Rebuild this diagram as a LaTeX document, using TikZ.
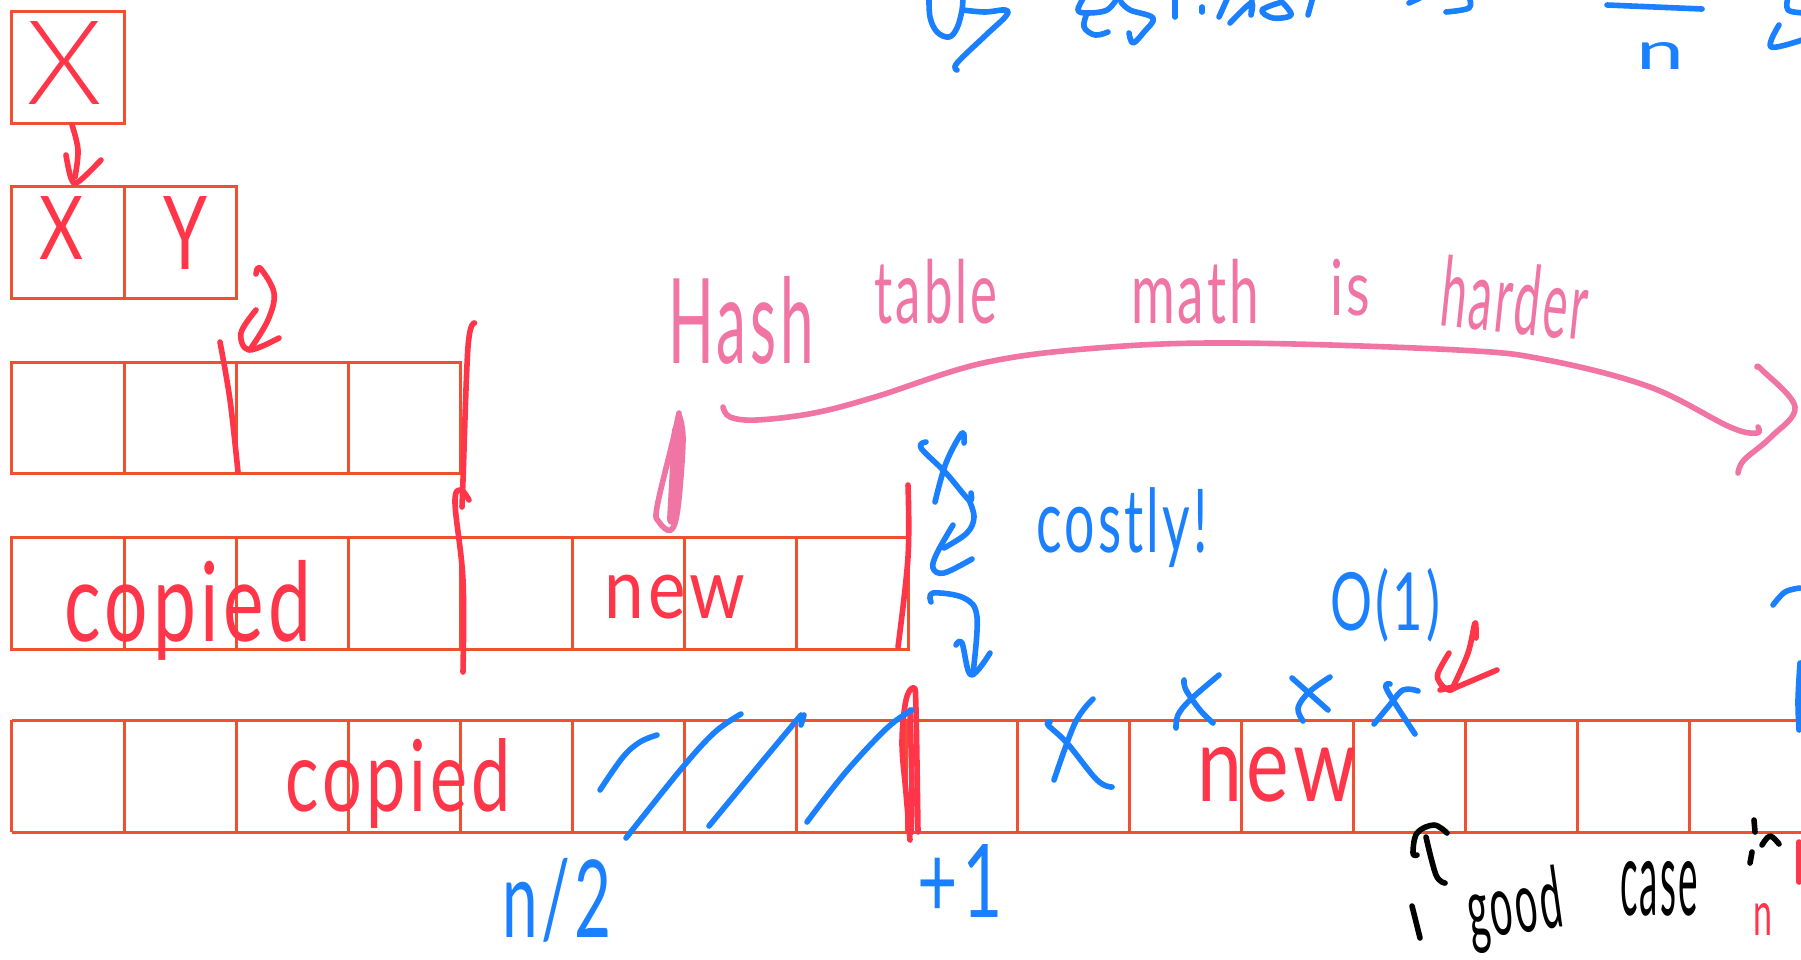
\documentclass[tikz,border=0pt]{standalone}
\usepackage{fontspec}
\usepackage{graphicx}
\setmainfont{Liberation Sans}
\newfontfamily\hand[LetterSpace=6]{Lato}
\newfontfamily\handlight[LetterSpace=6]{Lato Light}
\definecolor{gridc}{HTML}{F0502F}
\definecolor{inkred}{HTML}{FF3549}
\definecolor{inkblue}{HTML}{1A80FF}
\definecolor{inkpink}{HTML}{F075A4}
\definecolor{inkblack}{HTML}{000000}
\tikzset{
  gridline/.style={draw=gridc,line width=3pt},
  ink/.style={line width=5.6pt,line cap=round,line join=round},
  redink/.style={ink,draw=inkred},
  blueink/.style={ink,draw=inkblue},
  pinkink/.style={ink,draw=inkpink},
  blackink/.style={ink,draw=inkblack},
  word/.style={inner sep=0pt,outer sep=0pt}
}
% name, colour, centre x, centre y, width, height, rotation, text
\newcommand{\hw}[8]{\node[word,text=#2,rotate=#7] (#1) at (#3,#4)
  {\resizebox*{#5pt}{#6pt}{\fontsize{60}{70}\selectfont\hand #8}};}
\newcommand{\hl}[8]{\node[word,text=#2,rotate=#7] (#1) at (#3,#4)
  {\resizebox*{#5pt}{#6pt}{\fontsize{60}{70}\selectfont\handlight #8}};}
\newcommand{\sk}[2]{\draw[#1] plot[smooth,tension=.6] coordinates {#2};}
\begin{document}
\begin{tikzpicture}[x=1pt,y=-1pt]
\useasboundingbox (0,0) rectangle (1801,959);
\fill[white] (0,0) rectangle (1801,959);
\clip (0,0) rectangle (1801,959);
% grids
\draw[gridline] (11.5,11.5) rectangle (124,123);
\draw[gridline] (11.5,186) rectangle (236,298) (124,186) -- (124,298);
\draw[gridline] (11.5,362) rectangle (460,473);
\foreach \c in {124,236,348} \draw[gridline] (\c,362) -- (\c,473);
\draw[gridline] (11.5,537) rectangle (908,649);
\foreach \c in {124,236,348,460,572,684,796} \draw[gridline] (\c,537) -- (\c,649);
\draw[gridline] (11.5,720) -- (1810,720) (11.5,832) -- (1810,832) (11.5,720) -- (11.5,832);
\foreach \c in {124,236,348,460,572,684,796,906,1017,1129,1241,1353,1465,1577,1689}
  \draw[gridline] (\c,720) -- (\c,832);
% red strokes
\sk{redink}{(72,125)(78,150)(75,177)}
\sk{redink}{(66,155)(71,178)(78,182)(101,160)}
\sk{redink}{(256,274)(260,268)(274,293)(268,320)(251,348)}
\sk{redink}{(256,310)(241,333)(249,350)(279,338)}
\sk{redink}{(220,342)(230,400)(238,472)}
\sk{redink}{(474.5,323)(468,347)(463,480)(462,507)}
\sk{redink}{(469,500)(461,490)(455,503)(463,580)(463,672)}
\sk{redink}{(908,485)(908,557)(898,647)}
\sk{redink}{(910,840)(906,793)(902,743)(906,700)(914,688)(916,710)(918,832)}
\sk{redink}{(910,710)(912,793)(911,833)}
\sk{redink}{(1476,638)(1475,623)(1468,653)(1453,687)}
\sk{redink}{(1449,653)(1438,673)(1440,683)(1449,690)(1457,687)(1497,670)}
\sk{redink}{(1440,690)(1453,687)}
\sk{redink}{(1799,842)(1799,882)}
% blue strokes
\sk{blueink}{(600,790)(623,757)(640,742)(657,735)}
\sk{blueink}{(626,838)(682,768)(715,732)(741,714)}
\sk{blueink}{(709,826)(761,763)(801,715)}
\sk{blueink}{(801,725)(804,715)}
\sk{blueink}{(807,822)(845,773)(887,728)(912,710)}
\sk{blueink}{(1050,722)(1048,725)(1067,743)(1097,780)(1112,787)}
\sk{blueink}{(1093,699)(1075,723)(1054,780)}
\sk{blueink}{(1184,680)(1186,690)(1200,710)(1213,723)}
\sk{blueink}{(1219,675)(1190,700)(1178,715)(1176,728)}
\sk{blueink}{(1292,678)(1328,710)}
\sk{blueink}{(1330,677)(1309,692)(1298,708)(1303,721)}
\sk{blueink}{(1390,684)(1387,690)(1415,734)}
\sk{blueink}{(1418,691)(1403,690)(1388,707)(1374,724)}
\sk{blueink}{(926,442)(921,448)(946,473)(969,500)(971,493)}
\sk{blueink}{(964,443)(962,433)(946,463)(935,502)}
\sk{blueink}{(969,500)(974,517)(967,533)(944,548)}
\sk{blueink}{(953,525)(937,553)(933,568)(944,573)(972,559)}
\sk{blueink}{(931,602)(933,593)(964,598)(977,617)(973,673)}
\sk{blueink}{(956,645)(962,643)(971,675)(990,653)}
% blue fragments cut by the edges
\sk{blueink}{(929,-5)(930,17)(937,32)(949,37)(957,28)(962,10)(963,-5)}
\sk{blueink}{(963,10)(985,12)(1005,10)(1006,16)(986,35)(957,63)(957,70)}
\sk{blueink}{(1118,-3)(1107,10)(1087,13)(1078,10)(1084,-3)}
\sk{blueink}{(1087,13)(1084,27)(1095,35)(1108,32)}
\sk{blueink}{(1121,2)(1130,10)(1153,18)(1144,32)(1133,43)(1129,33)}
\sk{blueink}{(1175,-3)(1175,17)}
\sk{blueink}{(1202,7)(1202,12)}
\sk{blueink}{(1219,17)(1228,-3)}
\sk{blueink}{(1230,23)(1251,3)(1251,15)(1252,-3)}
\sk{blueink}{(1282,2)(1262,10)(1273,18)(1291,15)(1282,2)}
\sk{blueink}{(1308,15)(1313,-3)}
\sk{blueink}{(1409,3)(1420,-2)}
\sk{blueink}{(1469,-3)(1469,8)(1446,12)}
\draw[blueink] (1607,5) -- (1702,9);
\sk{blueink}{(1788,-3)(1788,10)(1805,13)}
\sk{blueink}{(1779,25)(1771,47)(1805,39)}
\sk{blueink}{(1773,605)(1785,592)(1800,588)}
\sk{blueink}{(1800,663)(1798,700)(1799,730)}
% pink strokes
\sk{pinkink}{(723,407)(730,417)(757,420)(814,413)(875,397)(983,363)(1097,348)(1234,343)(1458,350)(1547,360)(1650,387)(1730,427)(1757,433)(1758,427)}
\sk{pinkink}{(1757,367)(1762,370)(1795,407)(1771,437)(1744,460)(1738,473)}
\sk{pinkink}{(679,413)(673,440)(657,507)(659,522)(671,530)(678,507)(683,440)(679,415)}
\draw[pinkink,line width=10pt] (677,430) -- (672,520);
% black strokes
\sk{blackink}{(1445,883)(1436,875)(1426,837)}
\sk{blackink}{(1417,855)(1413,853)(1417,833)(1434,825)(1447,833)}
\sk{blackink}{(1412,906)(1420,938)}
\sk{blackink}{(1754,820)(1755,832)}
\sk{blackink}{(1762,845)(1770,836)(1779,844)}
\sk{blackink}{(1752,852)(1750,863)}
% words
\hl{xone}{inkred}{65}{63}{76}{83}{0}{X}
\hw{xtwo}{inkred}{62}{228}{44}{63}{0}{X}
\hw{yone}{inkred}{185}{233}{44}{73}{0}{Y}
\hw{copyone}{inkred}{188}{610}{247}{100}{0}{copied}
\hw{newone}{inkred}{675}{597}{141}{44}{0}{new}
\hw{copytwo}{inkred}{398}{783}{226}{90}{0}{copied}
\hw{newtwo}{inkred}{1277}{775}{160}{55}{0}{new}
\hw{hash}{inkpink}{741}{320}{145}{88}{0}{Hash}
\hw{table}{inkpink}{936}{292}{123}{65}{0}{table}
\hw{math}{inkpink}{1195}{292}{128}{65}{0}{math}
\hw{is}{inkpink}{1350}{288}{40}{57}{0}{is}
\hw{harder}{inkpink}{1515}{298}{147}{72}{-6}{harder}
\hw{costly}{inkblue}{1122}{528}{172}{80}{0}{costly!}
\hw{oone}{inkblue}{1385}{605}{110}{74}{0}{O(1)}
\hw{nhalf}{inkblue}{557}{900}{109}{84}{0}{n/2}
\hw{plusone}{inkblue}{960}{881}{85}{73}{0}{+1}
\hw{good}{inkblack}{1515}{910}{95}{78}{8}{good}
\hw{case}{inkblack}{1659}{889}{78}{55}{0}{case}
\hw{nred}{inkred}{1763}{919}{19}{32}{0}{n}
\hw{ntop}{inkblue}{1660}{56}{48}{27}{0}{n}
\end{tikzpicture}
\end{document}
